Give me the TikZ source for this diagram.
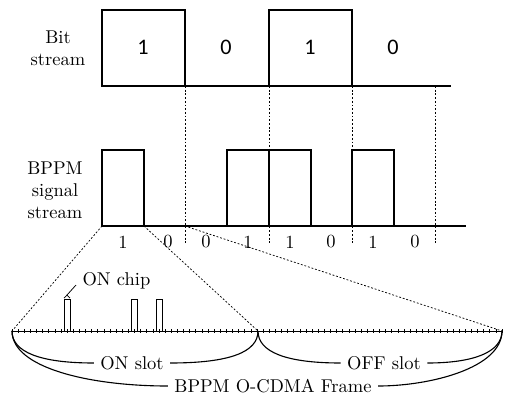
\documentclass[tikz,border=0pt]{standalone}
\usepackage{fontspec}
\newfontfamily\bitfont{Carlito}
\usetikzlibrary{decorations.pathreplacing}

\begin{document}
\begin{tikzpicture}[x=0.019cm, y=-0.019cm,
    wave/.style={semithick},
    dotline/.style={dash pattern=on 1pt off 1pt},
    bitdigit/.style={font=\bitfont\large},
    chipdigit/.style={},
    slotbrace/.style={semithick}]
  \useasboundingbox (0,0) rectangle (505,400);
  % Bit stream
  \node[align=center] (bitlbl) at (58,48) {Bit\\stream};
  \draw[wave] (102,10) rectangle (185,86);
  \draw[wave] (269,10) rectangle (352,86);
  \draw[wave] (102,86) -- (451,86);
  \node[bitdigit] (b1) at (143,47) {1};
  \node[bitdigit] (b2) at (226,47) {0};
  \node[bitdigit] (b3) at (310,47) {1};
  \node[bitdigit] (b4) at (393,47) {0};
  % bit boundaries
  \foreach \x in {185,269,352,435}
    \draw[dotline] (\x,86) -- (\x,243);
  % BPPM signal stream
  \node[align=center] (bppmlbl) at (55,190) {BPPM\\signal\\stream};
  \draw[wave] (102,150) rectangle (144,226);
  \draw[wave] (227,150) rectangle (269,226);
  \draw[wave] (269,150) rectangle (311,226);
  \draw[wave] (352,150) rectangle (394,226);
  \draw[wave] (102,226) -- (466,226);
  \foreach \x/\b [count=\i] in {123/1,168/0,206/0,248/1,290/1,331/0,373/1,415/0}
    \node[chipdigit] (c\i) at (\x,242) {\b};
  % Frame
  \coordinate (frameL) at (12,331);
  \coordinate (slotmid) at (258,331);
  \coordinate (frameR) at (502,331);
  \draw[dotline] (102,226) -- (frameL);
  \draw[dotline] (144,226) -- (slotmid);
  \draw[dotline] (185,226) -- (frameR);
  \draw (frameL) -- (frameR);
  \foreach \i in {0,...,80}
    \draw ({12+\i*6.125},329) -- ++(0,4);
  % chips
  \foreach \c in {9,20,24}
    \draw ({12+\c*6.125-3},331) rectangle ++(6,-32);
  \coordinate (chiptip) at (67,295);
  \draw[decorate, decoration={brace, amplitude=1.5pt}] (64,298) -- (70,298);
  \node[anchor=base west] (onchip) at (76,285) {ON chip};
  \draw (onchip.base west) -- (chiptip);
  % Slots
  \node (onslot) at (132,363) {ON slot};
  \node (offslot) at (384,363) {OFF slot};
  \node (frame) at (273,386) {BPPM O-CDMA Frame};
  \draw[slotbrace] (frameL) .. controls (12,352) and (40,363) .. (onslot.west);
  \draw[slotbrace] (slotmid) .. controls (258,352) and (230,363) .. (onslot.east);
  \draw[slotbrace] (slotmid) .. controls (258,352) and (286,363) .. (offslot.west);
  \draw[slotbrace] (frameR) .. controls (502,352) and (474,363) .. (offslot.east);
  \draw[slotbrace] (frameL) .. controls (12,368) and (90,386) .. (frame.west);
  \draw[slotbrace] (frameR) .. controls (502,368) and (430,386) .. (frame.east);
\end{tikzpicture}
\end{document}
